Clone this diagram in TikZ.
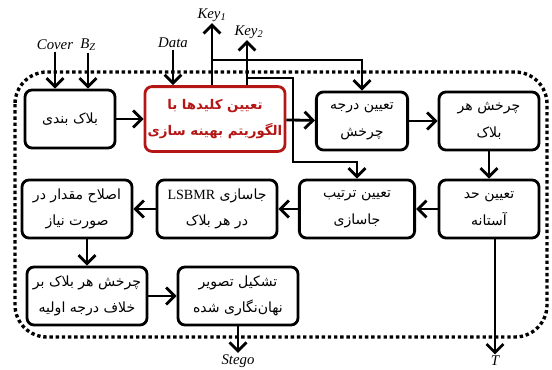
\documentclass[tikz,border=0pt]{standalone}
\usepackage{fontspec}
\usetikzlibrary{arrows.meta}
\TeXXeTstate=1
\newfontfamily\arabicfont[Script=Arabic]{DejaVu Sans}
\newfontfamily\latinfont{Liberation Serif}
\newcommand{\rline}[1]{\beginR#1\endR}
\definecolor{keyRed}{RGB}{180,22,22}
\tikzset{
  blok/.style={draw, line width=2pt, rounded corners=5pt, minimum height=1.45cm, align=center, inner sep=2pt, font=\arabicfont\fontsize{10}{19}\selectfont},
  redblok/.style={blok, draw=keyRed, text=keyRed, minimum height=1.62cm, inner sep=1pt, font=\arabicfont\bfseries\fontsize{9.5}{19}\selectfont},
  arr/.style={line width=2pt, -{Straight Barb[length=6pt,width=12pt]}},
  lbl/.style={font=\latinfont\itshape\fontsize{10.5}{12}\selectfont, inner sep=1pt},
  frame/.style={line width=2.4pt, dash pattern=on 2.4pt off 2pt, rounded corners=0.8cm}
}

\begin{document}
\begin{tikzpicture}[x=0.025cm,y=-0.025cm]
    \useasboundingbox (0,0) rectangle (552,369);
    \draw[frame] (15,72) rectangle (547,337);

    \node[blok, minimum width=2.25cm] (b1) at (70,119) {\rline{بلاک بندی}};
    \node[redblok, minimum width=3.5cm] (b2) at (215,119) {\rline{تعیین کلیدها با}\\\rline{الگوریتم بهینه سازی}};
    \node[blok, minimum width=2.28cm] (b3) at (362,121) {\rline{تعیین درجه}\\\rline{چرخش}};
    \node[blok, minimum width=2.5cm] (b4) at (489,121) {\rline{چرخش هر}\\\rline{بلاک}};
    \node[blok, minimum width=2.5cm] (b5) at (489,209) {\rline{تعیین حد}\\\rline{آستانه}};
    \node[blok, minimum width=2.88cm] (b6) at (357,209) {\rline{تعیین ترتیب}\\\rline{جاسازی}};
    \node[blok, minimum width=3cm] (b7) at (217,209) {\rline{جاسازی \beginL{\latinfont LSBMR}\endL}\\\rline{در هر بلاک}};
    \node[blok, minimum width=2.75cm] (b8) at (77,209) {\rline{اصلاح مقدار در}\\\rline{صورت نیاز}};
    \node[blok, minimum width=3cm] (b9) at (87,296) {\rline{چرخش هر بلاک بر}\\\rline{خلاف درجه اولیه}};
    \node[blok, minimum width=3cm] (b10) at (238,296) {\rline{تشکیل تصویر}\\\rline{نهان‌نگاری شده}};

    \node[lbl] (cover) at (55,45) {Cover};
    \node[lbl] (bz) at (88,45) {B\textsubscript{Z}};
    \node[lbl] (data) at (173,43) {Data};
    \node[lbl] (key1) at (212,15) {Key\textsubscript{1}};
    \node[lbl] (key2) at (249,32) {Key\textsubscript{2}};
    \node[lbl] (stego) at (238,361) {Stego};
    \node[lbl] (tt) at (495,361) {T};
    \coordinate (k1) at (212,60);
    \coordinate (k2) at (247,78);
    \coordinate (j1) at (293,162);

    \draw[arr] (cover) -- (cover |- b1.north);
    \draw[arr] (bz) -- (bz |- b1.north);
    \draw[arr] (data) -- (data |- b2.north);
    \draw[arr] (b2.north -| key1) -- (key1);
    \draw[arr] (b2.north -| k2) -- (k2 |- key2.south);
    \draw[arr] (k1) -| (b3);
    \draw[arr] (k2) -| (j1) -| (b6);
    \draw[arr] (b1) -- (b2);
    \draw[arr] (b2) -- (b3);
    \draw[arr] (b3) -- (b4);
    \draw[arr] (b4) -- (b5);
    \draw[arr] (b5) -- (b6);
    \draw[arr] (b6) -- (b7);
    \draw[arr] (b7) -- (b8);
    \draw[arr] (b8.south -| b9) -- (b9);
    \draw[arr] (b9) -- (b10);
    \draw[arr] (b10) -- (stego);
    \draw[arr] (b5.south -| tt) -- (tt);
\end{tikzpicture}
\end{document}
